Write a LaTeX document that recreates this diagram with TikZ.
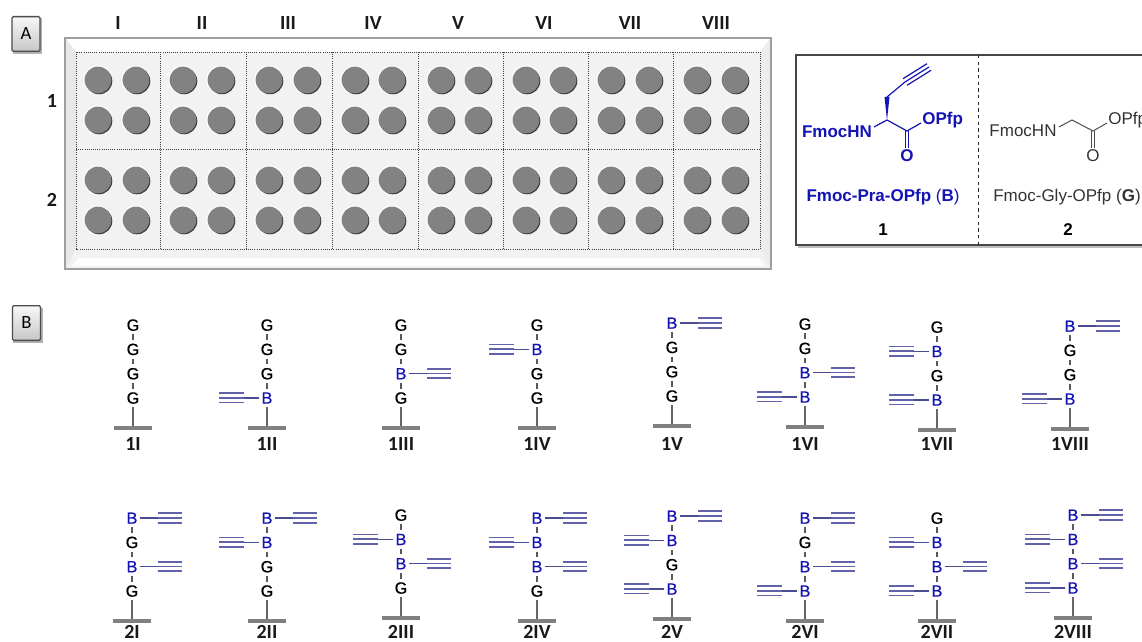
\documentclass[tikz,border=0pt]{standalone}
\usepackage{fontspec}
\setmainfont{Liberation Sans}
\newfontfamily\carl{Carlito}
\newfontfamily\resfont[RawFeature={embolden=0.7}]{Liberation Sans}
\usetikzlibrary{calc}
\definecolor{bblue}{HTML}{1414B4}
\definecolor{tripblue}{HTML}{6062AC}
\definecolor{bondblue}{HTML}{4A4C90}
\tikzset{
  x=0.75pt,y=-0.75pt,
  gly/.style={inner sep=0pt,outer sep=2.7pt,text height=8.6pt,text depth=0pt,font=\resfont\fontsize{12.2}{13}\selectfont,text=black},
  pra/.style={gly,text=bblue},
  bond/.style={draw=black!65,line width=1pt},
  sidebond/.style={draw=bondblue,line width=1.05pt,shorten <=-1pt},
  tripleline/.style={draw=tripblue,line width=1.25pt},
  barline/.style={draw=black!50,line width=2.6pt},
  stem/.style={draw=black!60,line width=1.05pt},
  strandlabel/.style={font=\carl\bfseries\fontsize{15}{16}\selectfont,inner sep=0pt,text=black!90},
  headlabel/.style={font=\carl\bfseries\fontsize{15}{16}\selectfont,inner sep=0pt,text=black!90},
  panel/.style={draw=black!70,line width=1pt,rounded corners=1pt,top color=black!3,bottom color=black!22,
     minimum width=21pt,minimum height=26pt,inner sep=0pt,font=\carl\fontsize{14}{15}\selectfont},
  chem/.style={inner sep=0pt,font=\fontsize{12.75}{14}\selectfont},
  molblue/.style={draw=bblue,line width=0.9pt},
  molgray/.style={draw=black!70,line width=0.75pt},
  well/.style={fill=black!49},
}
\newcommand\residue[4]{%
  \ifx#4G\node[gly] (#1) at (#2,#3) {G};\fi
  \ifx#4R\node[pra] (#1) at (#2,#3) {B};
    \coordinate (#1t) at ({#2+26},#3);
    \coordinate (#1e) at ({#2+50},#3);
    \draw[sidebond] (#1) -- (#1t);
    \draw[tripleline] (#1t) -- (#1e);
    \draw[tripleline] ($(#1t)+(0,-4.7)$) -- ($(#1e)+(0,-4.7)$);
    \draw[tripleline] ($(#1t)+(0,4.7)$) -- ($(#1e)+(0,4.7)$);
  \fi
  \ifx#4L\node[pra] (#1) at (#2,#3) {B};
    \coordinate (#1t) at ({#2-23},#3);
    \coordinate (#1e) at ({#2-48},#3);
    \draw[sidebond] (#1) -- (#1t);
    \draw[tripleline] (#1t) -- (#1e);
    \draw[tripleline] ($(#1t)+(0,-4.7)$) -- ($(#1e)+(0,-4.7)$);
    \draw[tripleline] ($(#1t)+(0,4.7)$) -- ($(#1e)+(0,4.7)$);
  \fi}
% id, x, top y, four residues, label, label y
\newcommand\strand[9]{%
  \residue{#1a}{#2}{#3}{#4}
  \residue{#1b}{#2}{#3+24.3}{#5}
  \residue{#1c}{#2}{#3+48.6}{#6}
  \residue{#1d}{#2}{#3+72.9}{#7}
  \draw[bond] (#1a) -- (#1b);
  \draw[bond] (#1b) -- (#1c);
  \draw[bond] (#1c) -- (#1d);
  \coordinate (#1base) at (#2,{#3+103});
  \coordinate (#1l) at ({#2-19},{#3+103});
  \coordinate (#1r) at ({#2+19},{#3+103});
  \draw[stem] (#1d) -- (#1base);
  \draw[barline] (#1l) -- (#1r);
  \node[strandlabel] (#1name) at (#2,#9) {#8};}
\begin{document}
\begin{tikzpicture}
\useasboundingbox (0,0) rectangle (1142,642);
\clip (0,0) rectangle (1142,642);
\fill[white] (0,0) rectangle (1142,642);
% panel tags
\fill[black!30] (13,18) rectangle (42,54);
\node[panel] (tagA) at (26,34) {A};
\fill[black!30] (13,308) rectangle (43,343);
\node[panel] (tagB) at (26.5,323) {B};
% column and row heads
\node[headlabel] (cI) at (118,23) {I};
\node[headlabel] (cII) at (202,23) {II};
\node[headlabel] (cIII) at (288,23) {III};
\node[headlabel] (cIV) at (373,23) {IV};
\node[headlabel] (cV) at (458,23) {V};
\node[headlabel] (cVI) at (544,23) {VI};
\node[headlabel] (cVII) at (630,23) {VII};
\node[headlabel] (cVIII) at (716,23) {VIII};
\node[headlabel] (r1) at (52,101) {1};
\node[headlabel] (r2) at (52,200) {2};
% plate
\fill[black!8] (65,38) rectangle (771,269);
\fill[white] (66,39) -- (770,39) -- (760,52) -- (76,52) -- cycle;
\fill[black!9] (66,39) -- (76,52) -- (76,249) -- (66,268) -- cycle;
\fill[black!7] (770,39) -- (760,52) -- (760,249) -- (770,268) -- cycle;
\fill[black!5] (66,268) -- (76,249) -- (760,249) -- (770,268) -- cycle;
\fill[white!70!black!2] (78,258) -- (758,258) -- (765,266) -- (72,266) -- cycle;
\draw[black!38,line width=1pt] (65,38) rectangle (771,269);
\fill[black!5] (76,52) rectangle (760,249);
\draw[black!75,densely dotted,line width=0.6pt] (76,52) rectangle (760,249);
\draw[black!75,densely dotted,line width=0.6pt] (76,149) -- (760,149);
\foreach \xx in {160,246,332,418,503,588,673}
  \draw[black!75,densely dotted,line width=0.6pt] (\xx,52) -- (\xx,249);
\foreach \xx in {98,136,183,221,269,307,355,392,441,478,526,563,611,649,697,735}
  \foreach \yy in {80,120,180,220}{
    \fill[white!70!black!5] (\xx,\yy) circle[radius=14.8];
    \fill[black!78] (\xx+1,\yy+1) circle[radius=13.3];
    \fill[well] (\xx,\yy) circle[radius=13.4];
  }
% reagent box
\fill[black!25] (798,58) rectangle (1142,248);
\fill[white] (796,55) rectangle (1142,245);
\draw[black!72,line width=0.8pt] (1150,55) -- (796,55) -- (796,245) -- (1150,245);
\coordinate (divT) at (978,55);
\coordinate (divB) at (978,245);
\draw[black!85,line width=0.75pt,dash pattern=on 2.4pt off 2.6pt] (divT) -- (divB);
% Fmoc-Pra-OPfp
\node[chem,text=bblue,font=\bfseries\fontsize{12.75}{14}\selectfont] (fh1) at (837,132) {FmocHN};
\node[chem,text=bblue,font=\bfseries\fontsize{12.75}{14}\selectfont,anchor=west] (op1) at (922,120) {OPfp};
\node[chem,text=bblue,font=\bfseries\fontsize{12.75}{14}\selectfont] (ox1) at (907,156) {O};
\coordinate (ca1) at (887,120);
\coordinate (cb1) at (887,97);
\coordinate (cs1) at (905,82);
\coordinate (ce1) at (929,67);
\coordinate (co1) at (907,131);
\draw[molblue] (874,127) -- (ca1);
\fill[bblue] (ca1) -- (884.5,97) -- (889.5,97) -- cycle;
\draw[molblue,line join=round] (cb1) -- (cs1);
\draw[molblue] (cs1) -- (ce1);
\draw[molblue] ($(cs1)+(-2,-3.3)$) -- ($(ce1)+(-2,-3.3)$);
\draw[molblue] ($(cs1)+(2,3.3)$) -- ($(ce1)+(2,3.3)$);
\draw[molblue] (ca1) -- (co1) -- (921,123);
\draw[molblue] (905.5,131) -- (905.5,148);
\draw[molblue] (908.5,131) -- (908.5,148);
\node[chem,text=bblue] (nm1) at (883,197) {\textbf{Fmoc-Pra-OPfp} (\textbf{B})};
\node[chem,font=\bfseries\fontsize{12.75}{14}\selectfont] (id1) at (883,230) {1};
% Fmoc-Gly-OPfp
\node[chem,text=black!80] (fh2) at (1023,131) {FmocHN};
\node[chem,text=black!80,anchor=west] (op2) at (1108,120) {OPfp};
\node[chem,text=black!80] (ox2) at (1093,156) {O};
\coordinate (ca2) at (1072,120);
\coordinate (co2) at (1093,131);
\draw[molgray] (1059,127) -- (ca2) -- (co2) -- (1107,123);
\draw[molgray] (1091.5,131) -- (1091.5,148);
\draw[molgray] (1094.5,131) -- (1094.5,148);
\node[chem,text=black!80] (nm2) at (1067,197) {Fmoc-Gly-OPfp (\textbf{G})};
\node[chem,font=\bfseries\fontsize{12.75}{14}\selectfont] (id2) at (1068,230) {2};
% row 1 strands
\strand{sAi}{133}{325}GGGG{1I}{444}
\strand{sAii}{267}{325}GGGL{1II}{444}
\strand{sAiii}{401}{325}GGRG{1III}{444}
\strand{sAiv}{537}{325}GLGG{1IV}{444}
\strand{sAv}{672}{323}RGGG{1V}{444}
\strand{sAvi}{805}{324}GGRL{1VI}{444}
\strand{sAvii}{937}{327}GLGL{1VII}{444}
\strand{sAviii}{1070}{326}RGGL{1VIII}{444}
% row 2 strands
\strand{sBi}{132}{518}RGRG{2I}{632}
\strand{sBii}{267}{518}RLGG{2II}{632}
\strand{sBiii}{401}{515}GLRG{2III}{632}
\strand{sBiv}{537}{518}RLRG{2IV}{632}
\strand{sBv}{672}{516}RLGL{2V}{632}
\strand{sBvi}{805}{518}RGRL{2VI}{632}
\strand{sBvii}{937}{518}GLRL{2VII}{632}
\strand{sBviii}{1073}{515}RLRL{2VIII}{632}
\end{tikzpicture}
\end{document}
